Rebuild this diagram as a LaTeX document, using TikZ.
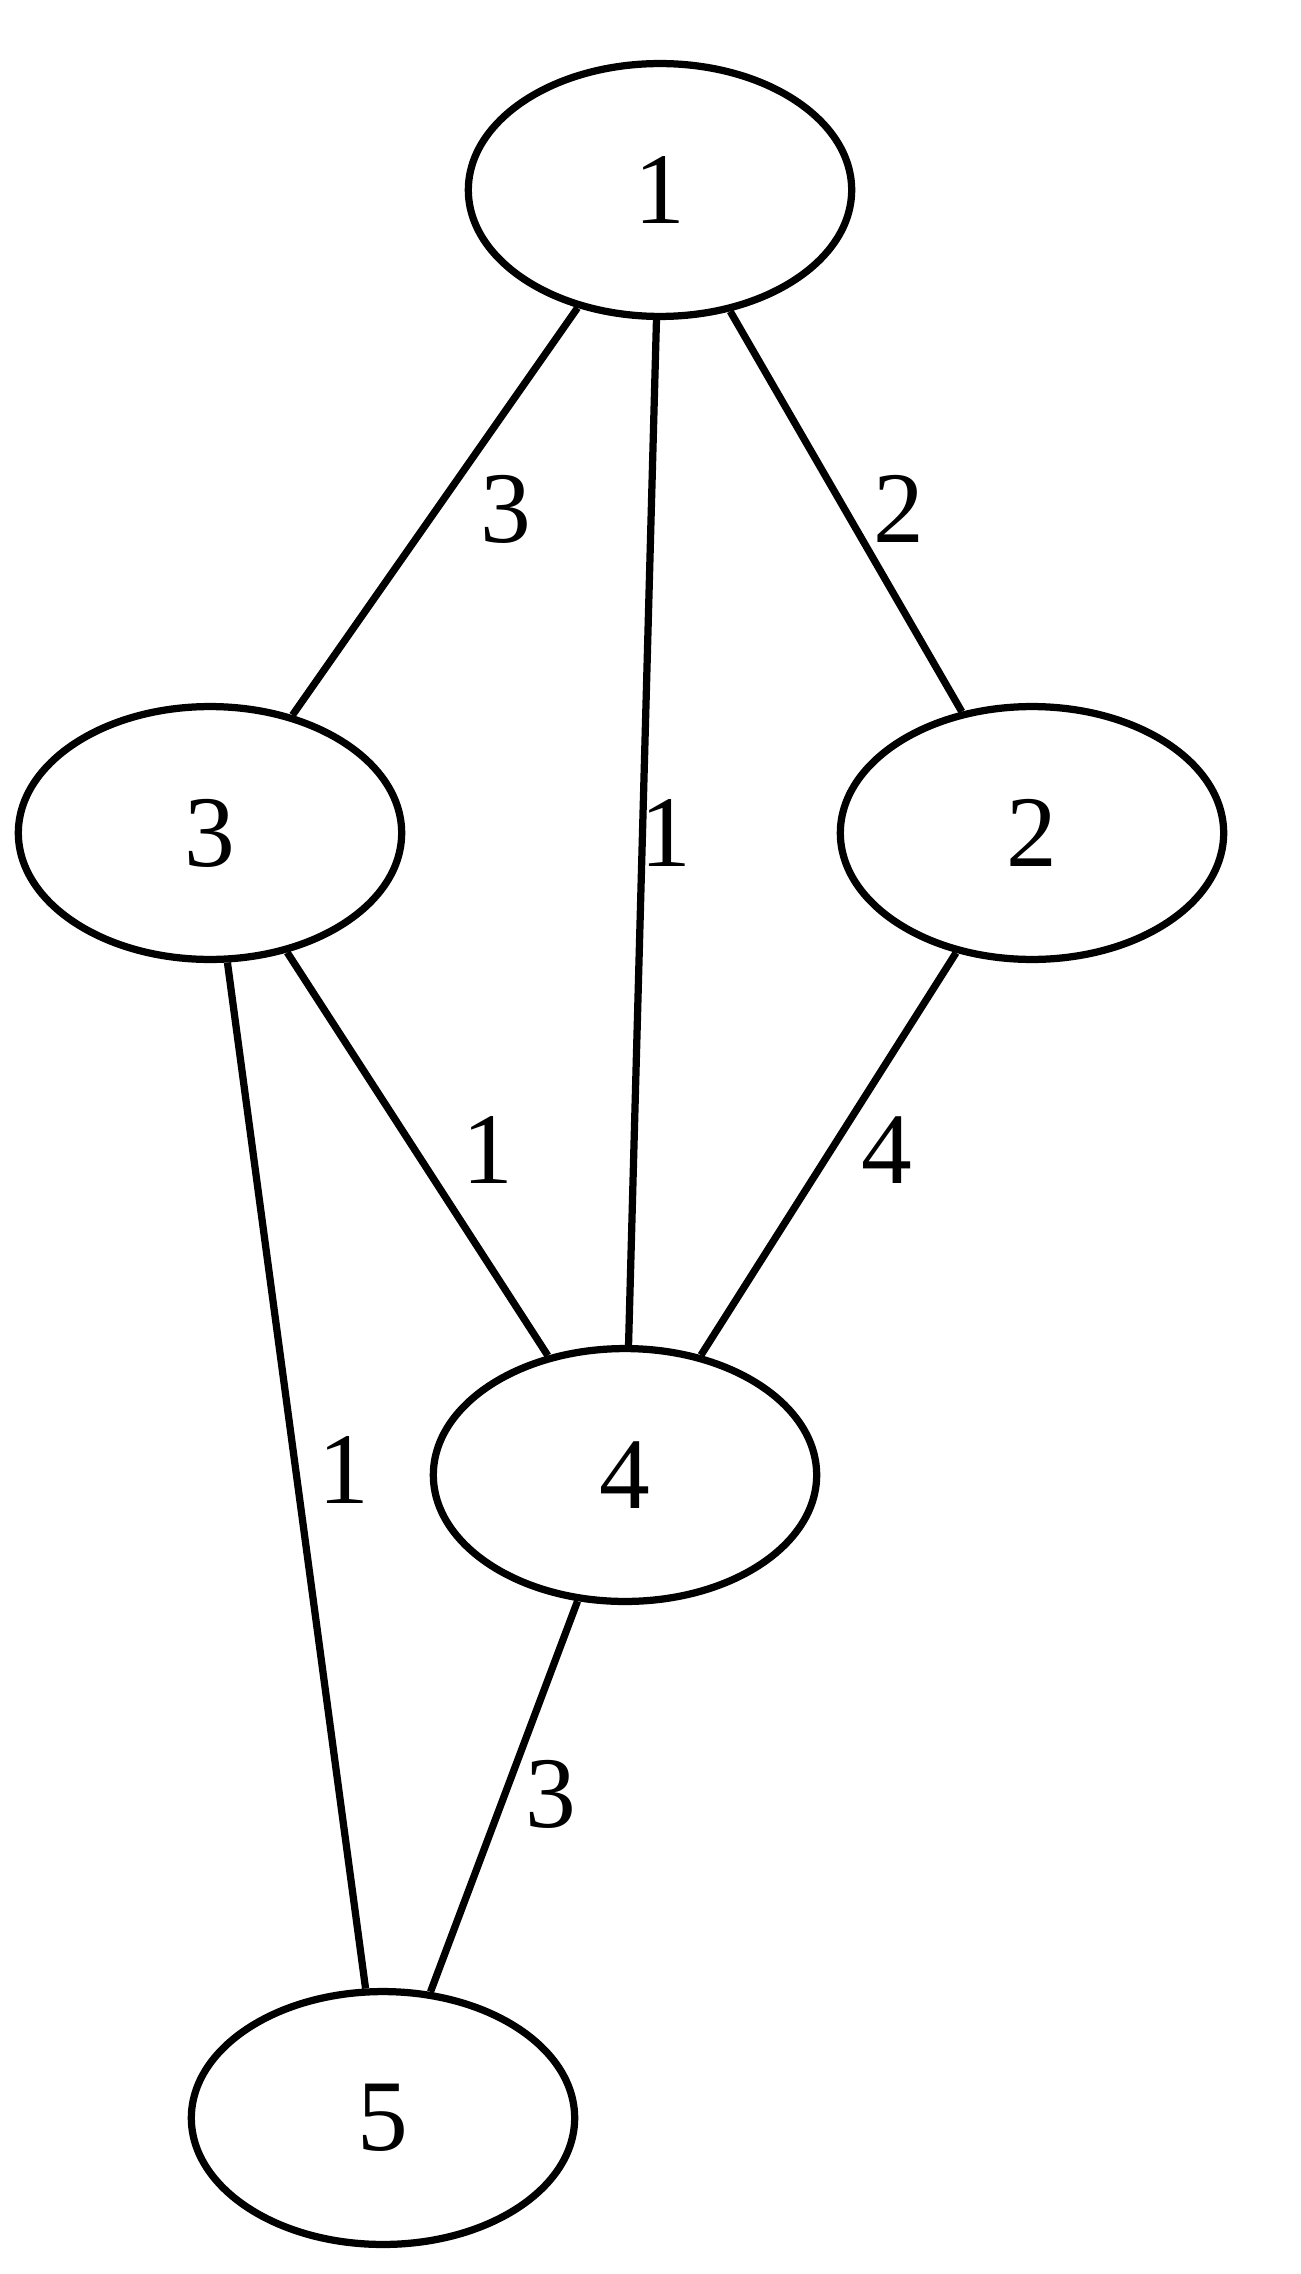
\documentclass[tikz,border=0pt]{standalone}
\usepackage{fontspec}
\setmainfont{Liberation Serif}
\usetikzlibrary{shapes.geometric}
\begin{document}
\begin{tikzpicture}[x=0.138pt,y=-0.138pt,
  vtx/.style={draw, ellipse, line width=1pt, minimum width=52.9pt, minimum height=34.9pt, inner sep=0pt, font=\fontsize{14}{16}\selectfont},
  wlab/.style={inner sep=0pt, font=\fontsize{14}{16}\selectfont},
  link/.style={line width=1pt}]
\useasboundingbox[fill=white] (0,0) rectangle (1300,2274);
\node[vtx] (n1) at (660,190) {1};
\node[vtx] (n2) at (1032,833) {2};
\node[vtx] (n3) at (210,833) {3};
\node[vtx] (n4) at (625,1475) {4};
\node[vtx] (n5) at (383,2118) {5};
\draw[link] (n1) -- (n3);
\draw[link] (n1) -- (n4);
\draw[link] (n1) -- (n2);
\draw[link] (n3) -- (n4);
\draw[link] (n3) -- (n5);
\draw[link] (n2) -- (n4);
\draw[link] (n4) -- (n5);
\node[wlab] (l13) at (506,509) {3};
\node[wlab] (l12) at (899,509) {2};
\node[wlab] (l14) at (666,833) {1};
\node[wlab] (l34) at (488,1150) {1};
\node[wlab] (l24) at (887,1150) {4};
\node[wlab] (l35) at (344,1470) {1};
\node[wlab] (l45) at (551,1794) {3};
\end{tikzpicture}
\end{document}
